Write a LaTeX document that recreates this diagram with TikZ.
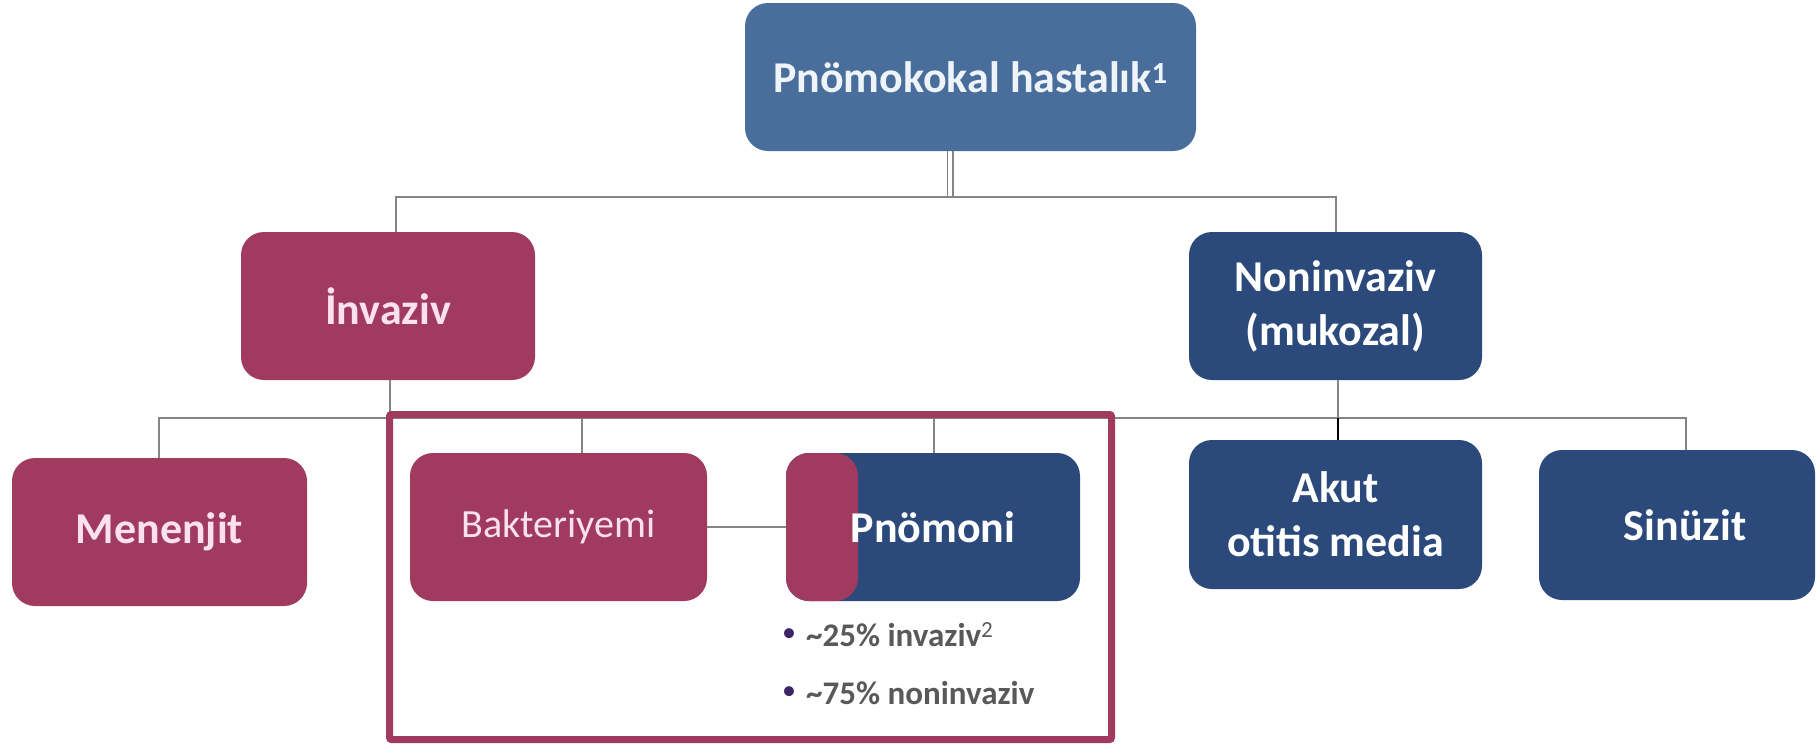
\documentclass[tikz,border=0pt]{standalone}
\usepackage{fontspec}
\setmainfont{Carlito}
\definecolor{pinkc}{HTML}{A03B5F}
\definecolor{navy}{HTML}{2B4A7B}
\definecolor{topblue}{HTML}{4A6E9C}
\definecolor{pinktxt}{HTML}{FBE0EE}
\definecolor{toptxt}{HTML}{EEF4FA}
\definecolor{linegray}{HTML}{858585}
\definecolor{bultxt}{HTML}{595959}
\definecolor{bulc}{HTML}{3D2466}
\begin{document}
\begin{tikzpicture}[x=1pt,y=-1pt,
  box/.style={rounded corners=23pt, inner sep=0pt, align=center,
    font=\fontsize{44}{54}\selectfont\bfseries},
  pinkbox/.style={box, fill=pinkc, text=pinktxt},
  bluebox/.style={box, fill=navy, text=white},
  conn/.style={draw=linegray, line width=2.5pt},
  bultext/.style={anchor=west, inner sep=0pt, text=bultxt,
    font=\fontsize{33}{40}\selectfont\bfseries},
  buldot/.style={inner sep=0pt, text=bulc, font=\fontsize{28}{30}\selectfont}]
\useasboundingbox (0,0) rectangle (1817,744);

% nodes
\node[box, fill=topblue, text=toptxt, minimum width=451pt, minimum height=148pt] (top) at (970.5,77) {Pnömokokal hastalık\textsuperscript{1}};
\node[pinkbox, minimum width=294pt, minimum height=148pt] (inv) at (388,306) {İnvaziv};
\node[bluebox, minimum width=293pt, minimum height=148pt] (non) at (1335.5,306) {Noninvaziv\\(mukozal)};
\node[pinkbox, minimum width=295pt, minimum height=148pt] (men) at (159.5,532) {Menenjit};
\node[pinkbox, minimum width=297pt, minimum height=148pt, font=\fontsize{40}{48}\selectfont\mdseries] (bak) at (558.5,527) {Bakteriyemi};
\node[bluebox, minimum width=294pt, minimum height=148pt,
  path picture={\fill[pinkc] (path picture bounding box.north west) rectangle ([xshift=72pt]path picture bounding box.south west);}] (pno) at (933,527) {Pnömoni};
\node[bluebox, minimum width=293pt, minimum height=149pt] (akut) at (1335.5,514.5) {Akut\\otitis media};
\node[bluebox, minimum width=276pt, minimum height=150pt] (sin) at (1677,525) {\hspace*{16pt}Sinüzit};

\node[buldot] (d1) at (789,635) {\textbullet};
\node[bultext] (b1) at (806,635) {\textasciitilde 25\% invaziv\textsuperscript{\mdseries 2}};
\node[buldot] (d2) at (789,693) {\textbullet};
\node[bultext] (b2) at (806,693) {\textasciitilde 75\% noninvaziv};

% hub coordinates
\coordinate (h1) at (947.5,197);
\coordinate (h2) at (953,197);
\coordinate (hl) at (396,197);
\coordinate (hr) at (1336,197);
\coordinate (ivd) at (390,418);
\coordinate (l2L) at (159,418);
\coordinate (l2R) at (1686,418);
\coordinate (bakc) at (582,418);
\coordinate (pnoc) at (934,418);
\coordinate (nonc) at (1338,418);

% connectors
\draw[conn, line width=1.8pt] (top.south -| h1) -- (h1);
\draw[conn, line width=1.8pt] (top.south -| h2) -- (h2);
\draw[conn] (inv.north -| hl) -- (hl) -- (hr) -- (non.north -| hr);
\draw[conn] (inv.south -| ivd) -- (ivd);
\draw[conn] (men.north -| l2L) -- (l2L) -- (l2R) -- (sin.north -| l2R);
\draw[conn] (bakc) -- (bak.north -| bakc);
\draw[conn] (pnoc) -- (pno.north -| pnoc);
\draw[conn] (non.south -| nonc) -- (nonc);
\draw[black, line width=2.2pt] (nonc) -- (akut.north -| nonc);
\draw[conn] (bak.east) -- (pno.west);

% frame
\node[draw=pinkc, line width=7pt, rounded corners=2pt, minimum width=722pt, minimum height=325pt, inner sep=0pt] (frame) at (750.5,577) {};
\end{tikzpicture}
\end{document}
